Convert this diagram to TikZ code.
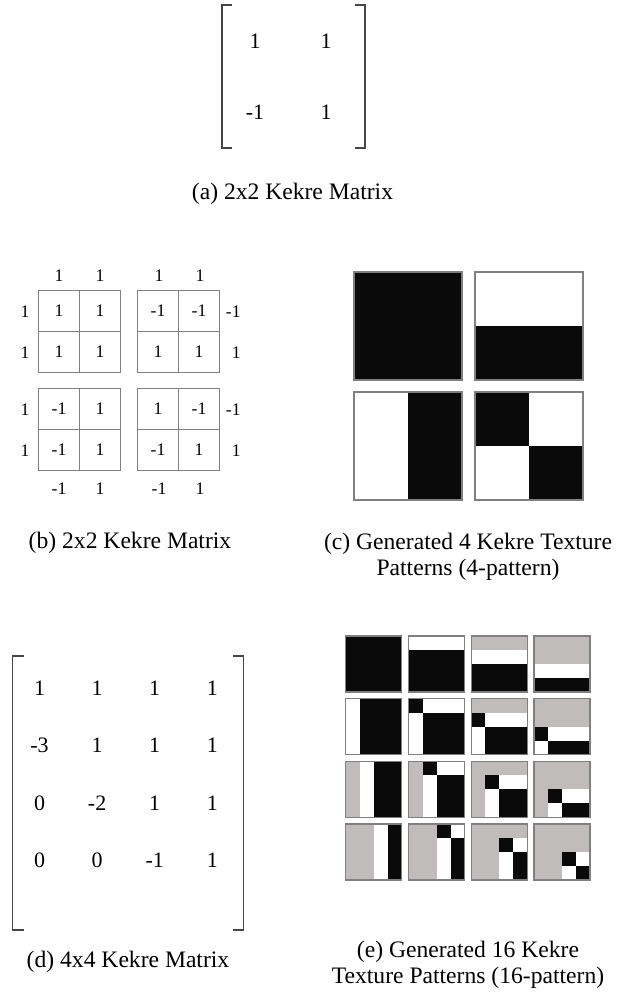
\documentclass[tikz,border=0pt]{standalone}
\usepackage{fontspec}
\setmainfont{Liberation Serif}
\definecolor{TexBlack}{RGB}{10,10,10}
\definecolor{TexGray}{RGB}{192,188,188}
\definecolor{GridGray}{RGB}{128,128,128}
\definecolor{BracketGray}{RGB}{70,70,70}
\begin{document}
\begin{tikzpicture}[x=0.5pt,y=-0.5pt,
    caption/.style={inner sep=0pt,align=center,font=\fontsize{11.8}{13}\selectfont},
    entry/.style={inner sep=0pt,font=\fontsize{11}{13}\selectfont},
    small/.style={inner sep=0pt,font=\fontsize{8.8}{10}\selectfont},
    bracket/.style={BracketGray,line width=0.75pt},
    cellline/.style={GridGray,line width=0.65pt},
    tileedge/.style={GridGray,line width=0.7pt}]
  \useasboundingbox (0,0) rectangle (629,993);
  \def\kk{{1,1,-1,1}}
  \def\kf{{1,1,1,1,-3,1,1,1,0,-2,1,1,0,0,-1,1}}
  % (a) 2x2 matrix
  \draw[bracket] (232,5)--(222,5)--(222,148)--(232,148);
  \draw[bracket] (355,5)--(365,5)--(365,148)--(355,148);
  \node[entry] (a11) at (255,41) {1};
  \node[entry] (a12) at (326,41) {1};
  \node[entry] (a21) at (255,112) {-1};
  \node[entry] (a22) at (326,112) {1};
  \node[caption] (capa) at (292.5,194) {(a) 2x2 Kekre Matrix};
  % (b) products of the rows
  \foreach \r in {0,1}
    \foreach \c in {0,1} {
      \pgfmathsetmacro\gx{38.5+99*\c}
      \pgfmathsetmacro\gy{290.5+98*\r}
      \draw[cellline] (\gx,\gy) rectangle ++(82,82);
      \draw[cellline] (\gx+41,\gy)--++(0,82) (\gx,\gy+41)--++(82,0);
      \foreach \i in {0,1}
        \foreach \j in {0,1} {
          \pgfmathtruncatemacro\kv{\kk[2*\c+\i]*\kk[2*\r+\j]}
          \node[small] (b\r\c-\i\j) at (\gx+20.5+41*\j,\gy+20.5+41*\i) {\kv};
        }
    }
  \foreach \x [count=\n] in {59,100,159,200}
    \node[small] (bt\n) at (\x,276) {1};
  \foreach \x/\t [count=\n] in {59/-1,100/1,159/-1,200/1}
    \node[small] (bb\n) at (\x,489) {\t};
  \foreach \y [count=\n] in {311.5,352.5,409.5,450.5}
    \node[small] (bl\n) at (25,\y) {1};
  \foreach \y/\t [count=\n] in {311.5/-1,352.5/1,409.5/-1,450.5/1}
    \node[small,anchor=east] (br\n) at (241,\y) {\t};
  \node[caption] (capb) at (130,543) {(b) 2x2 Kekre Matrix};
  % (c) 4 texture patterns
  \foreach \r in {0,1}
    \foreach \c in {0,1} {
      \pgfmathsetmacro\tx{354+121*\c}
      \pgfmathsetmacro\ty{272+120*\r}
      \foreach \i in {0,1}
        \foreach \j in {0,1} {
          \pgfmathtruncatemacro\kv{\kk[2*\c+\i]*\kk[2*\r+\j]}
          \ifnum\kv>0 \def\cellcol{TexBlack}\else\def\cellcol{white}\fi
          \fill[\cellcol] (\tx+54*\j,\ty+54*\i) rectangle ++(54,54);
        }
      \draw[tileedge] (\tx,\ty) rectangle ++(108,108);
    }
  \node[caption] (capc) at (468,557) {(c) Generated 4 Kekre Texture\\Patterns (4-pattern)};
  % (d) 4x4 matrix
  \draw[bracket] (24,656)--(12.7,656)--(12.7,930)--(24,930);
  \draw[bracket] (233,656)--(243.3,656)--(243.3,930)--(233,930);
  \foreach \i in {0,...,3}
    \foreach \j in {0,...,3} {
      \pgfmathtruncatemacro\kv{\kf[4*\i+\j]}
      \node[entry] (d\i\j) at (39.5+57.6*\j,688+57.5*\i) {\kv};
    }
  \node[caption] (capd) at (128,962) {(d) 4x4 Kekre Matrix};
  % (e) 16 texture patterns
  \foreach \r in {0,...,3}
    \foreach \c in {0,...,3} {
      \pgfmathsetmacro\tx{345.7+62.8*\c}
      \pgfmathsetmacro\ty{636+62.6*\r}
      \foreach \i in {0,...,3}
        \foreach \j in {0,...,3} {
          \pgfmathtruncatemacro\kv{\kf[4*\c+\i]*\kf[4*\r+\j]}
          \ifnum\kv>0 \def\cellcol{TexBlack}\else\ifnum\kv<0 \def\cellcol{white}\else\def\cellcol{TexGray}\fi\fi
          \fill[\cellcol] (\tx+14*\j,\ty+14*\i) rectangle ++(14,14);
        }
      \draw[tileedge] (\tx,\ty) rectangle ++(56,56);
    }
  \node[caption] (cape) at (468,965) {(e) Generated 16 Kekre\\Texture Patterns (16-pattern)};
\end{tikzpicture}
\end{document}
